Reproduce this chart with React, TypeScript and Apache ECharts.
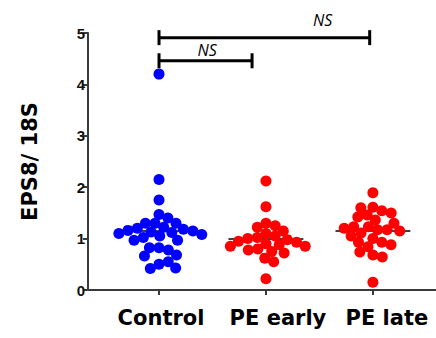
import React, { useEffect, useRef } from "react";
import * as echarts from "echarts";

const categories = ["Control", "PE early", "PE late"];
const controlValues = [4.2, 2.15, 1.75, 1.47, 1.4, 1.3, 1.3, 1.3, 1.22, 1.2, 1.18, 1.16, 1.15, 1.13, 1.12, 1.1, 1.08, 1.05, 1.02, 0.97, 0.97, 0.82, 0.78, 0.82, 0.66, 0.68, 0.5, 0.55, 0.42, 0.43];
const peEarlyValues = [2.12, 1.62, 1.3, 1.25, 1.22, 1.15, 1.1, 1.05, 1.02, 1.0, 0.98, 0.95, 0.93, 0.9, 0.88, 0.85, 0.85, 0.8, 0.78, 0.75, 0.72, 0.62, 0.55, 0.22];
const peLateValues = [1.89, 1.61, 1.54, 1.46, 1.42, 1.5, 1.6, 1.36, 1.23, 1.17, 1.11, 1.17, 1.23, 1.3, 1.2, 1.15, 1.05, 1.0, 0.93, 0.84, 0.68, 0.64, 0.74, 0.88, 0.93, 0.15];
const centerLines = [1.15, 0.99, 1.15];
const yTicks = [0, 1, 2, 3, 4, 5];
const groupColors = ["#0000ff", "#ff0000", "#ff0000"];
// comparisons: from group, to group, bracket height, label position (x in group units, y value)
const brackets = [
  { from: 0, to: 1.97, y: 4.91, labelX: 1.53, labelY: 5.26, text: "NS" },
  { from: 0, to: 0.87, y: 4.46, labelX: 0.45, labelY: 4.67, text: "NS" },
];

const W = 436;
const H = 338;
const GRID_LEFT = 88;
const GRID_TOP = 33;
const GRID_BOTTOM = 48;
const X_MIN = -0.664;
const X_MAX = 2.59;
const DOT = 11;
const SPACING = 9.6;
const LABEL_SHIFT = [4, 24, 28];

function swarm(values: number[], pxPerX: number, pxPerY: number, d: number) {
  const placed: { x: number; y: number }[] = [];
  const out: number[] = new Array(values.length).fill(0);
  values.forEach((v, idx) => {
    const y = v * pxPerY;
    const cands = [0];
    placed.forEach((p) => {
      const dy = Math.abs(p.y - y);
      if (dy < d) {
        const dx = Math.sqrt(d * d - dy * dy);
        cands.push(p.x + dx, p.x - dx);
      }
    });
    cands.sort((a, b) => Math.abs(a) - Math.abs(b));
    let chosen = 0;
    for (const c of cands) {
      const ok = placed.every((p) => (p.x - c) ** 2 + (p.y - y) ** 2 >= d * d - 0.01);
      if (ok) {
        chosen = c;
        break;
      }
    }
    placed.push({ x: chosen, y });
    out[idx] = chosen / pxPerX;
  });
  return out;
}

export default function App() {
  const ref = useRef<HTMLDivElement>(null);
  useEffect(() => {
    if (!ref.current) return;
    const chart = echarts.init(ref.current, null, { renderer: "svg" });
    const pxPerX = (W - GRID_LEFT) / (X_MAX - X_MIN);
    const pxPerY = (H - GRID_TOP - GRID_BOTTOM) / 5;
    const groups = [controlValues, peEarlyValues, peLateValues];
    const scatterSeries = groups.map((vals, gi) => {
      const offs = swarm(vals, pxPerX, pxPerY, SPACING);
      return {
        type: "scatter",
        name: categories[gi],
        symbol: "circle",
        symbolSize: DOT,
        itemStyle: { color: groupColors[gi], opacity: 1 },
        z: 5,
        data: vals.map((v, i) => [gi + offs[i], v]),
      };
    });
    const labelFont = { color: "#000", fontSize: 21, fontWeight: "bold", fontFamily: "DejaVu Sans" };
    const rich: any = {};
    LABEL_SHIFT.forEach((s, i) => {
      rich["c" + i] = { ...labelFont, padding: [0, 0, 0, s] };
    });
    const option: any = {
      animation: false,
      backgroundColor: "#ffffff",
      grid: { left: GRID_LEFT, top: GRID_TOP, right: 0, bottom: GRID_BOTTOM, containLabel: false },
      xAxis: {
        type: "value",
        min: X_MIN,
        max: X_MAX,
        splitLine: { show: false },
        axisLine: { show: true, onZero: false, lineStyle: { color: "#3a3a3a", width: 2 } },
        axisTick: { show: true, customValues: [0, 1, 2], length: 5, lineStyle: { color: "#3a3a3a", width: 2 } },
        axisLabel: {
          customValues: [0, 1, 2],
          formatter: (v: number) => {
            const i = Math.round(v);
            return categories[i] ? `{c${i}|${categories[i]}}` : "";
          },
          rich,
          margin: 17,
          ...labelFont,
        },
      },
      yAxis: {
        type: "value",
        min: 0,
        max: 5,
        interval: 1,
        name: "EPS8/ 18S",
        nameLocation: "middle",
        nameGap: 48,
        nameTextStyle: { ...labelFont, padding: [0, 0, 0, 0] },
        splitLine: { show: false },
        axisLine: { show: true, onZero: false, lineStyle: { color: "#3a3a3a", width: 2 } },
        axisTick: { show: true, length: 5, lineStyle: { color: "#3a3a3a", width: 2 } },
        axisLabel: {
          margin: 3,
          color: "#111",
          fontSize: 15,
          fontWeight: "bold",
          fontFamily: "Liberation Sans",
          formatter: (v: number) => (yTicks.includes(v) ? String(v) : ""),
        },
      },
      series: [
        {
          type: "custom",
          z: 2,
          clip: false,
          encode: { x: 0, y: 1 },
          data: centerLines.map((m, i) => [i, m]),
          renderItem: (params: any, api: any) => {
            const i = api.value(0);
            const m = api.value(1);
            const a = api.coord([i - 0.35, m]);
            const b = api.coord([i + 0.35, m]);
            return {
              type: "line",
              shape: { x1: a[0], y1: a[1], x2: b[0], y2: b[1] },
              style: { stroke: "#404040", lineWidth: 2 },
            };
          },
        },
        ...scatterSeries,
        {
          type: "custom",
          z: 6,
          clip: false,
          encode: { x: [0, 1], y: 2 },
          data: brackets.map((b) => [b.from, b.to, b.y, b.labelX, b.labelY]),
          renderItem: (params: any, api: any) => {
            const b = brackets[params.dataIndex];
            const l = api.coord([b.from, b.y]);
            const r = api.coord([b.to, b.y]);
            const t = api.coord([b.labelX, b.labelY]);
            const cap = 7.5;
            const st = { stroke: "#000", lineWidth: 3 };
            return {
              type: "group",
              children: [
                { type: "line", shape: { x1: l[0], y1: l[1], x2: r[0], y2: r[1] }, style: st },
                { type: "line", shape: { x1: l[0], y1: l[1] - cap, x2: l[0], y2: l[1] + cap }, style: st },
                { type: "line", shape: { x1: r[0], y1: r[1] - cap, x2: r[0], y2: r[1] + cap }, style: st },
                {
                  type: "text",
                  x: t[0],
                  y: t[1],
                  style: {
                    text: b.text,
                    fill: "#000",
                    fontSize: 16,
                    fontStyle: "italic",
                    fontFamily: "Open Sans",
                    align: "center",
                    verticalAlign: "middle",
                  },
                },
              ],
            };
          },
        },
      ],
    };
    chart.setOption(option);
    return () => chart.dispose();
  }, []);
  return (
    <div
      ref={ref}
      style={{ position: "absolute", left: 0, top: 0, width: W, height: H, background: "#fff" }}
    />
  );
}
